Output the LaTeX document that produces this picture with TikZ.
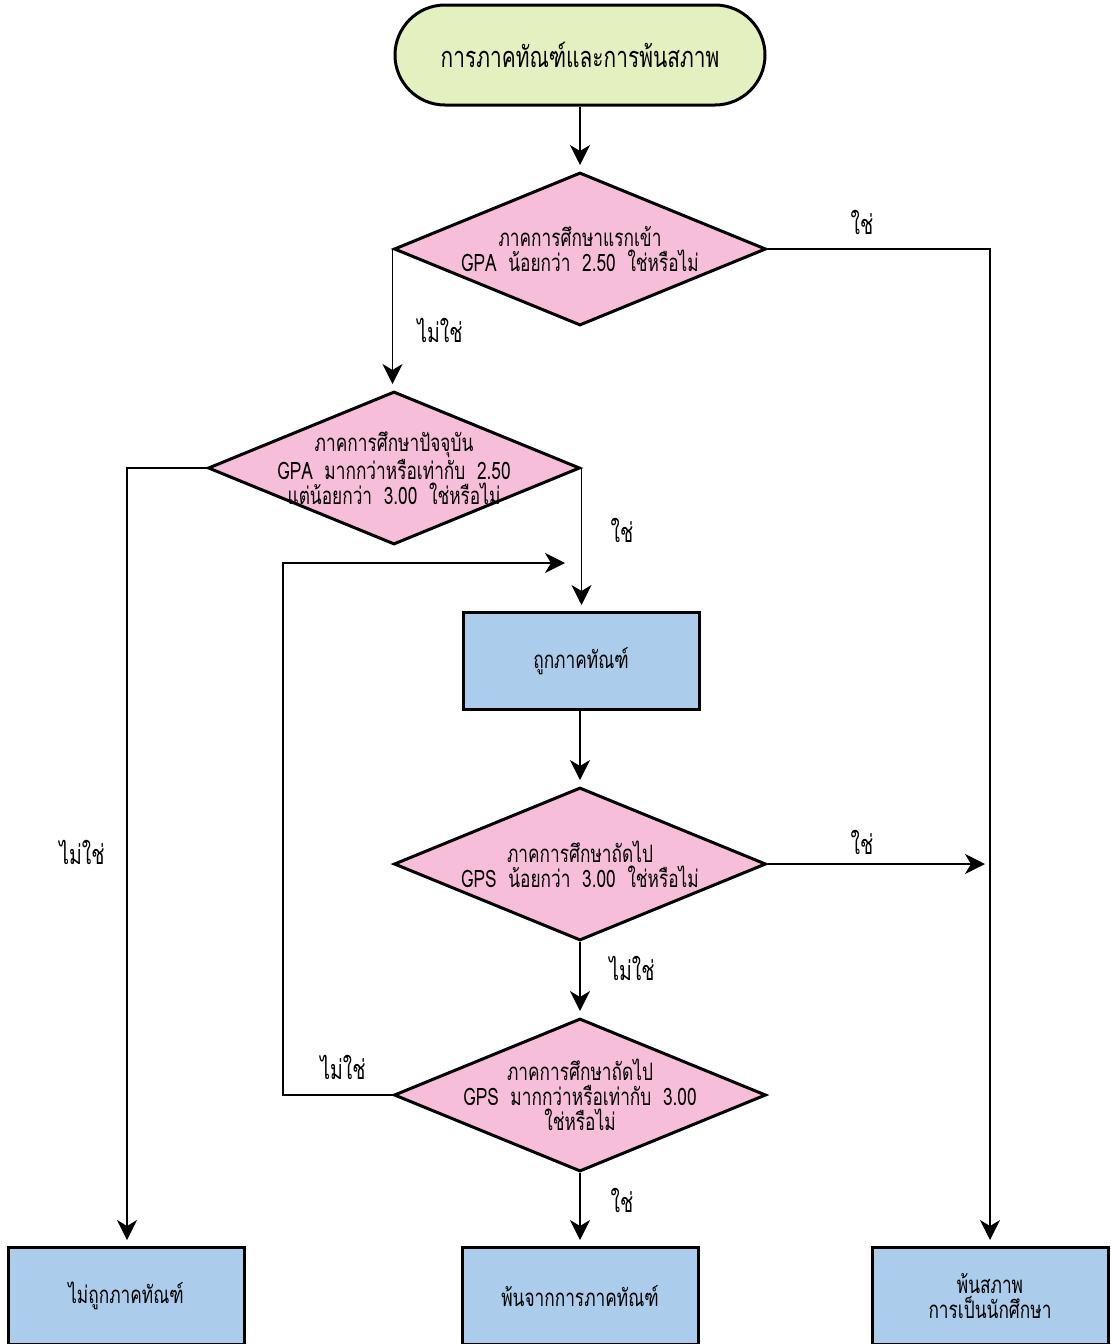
\documentclass[tikz,border=0pt]{standalone}
\usepackage{fontspec}
\newfontfamily\thaifont[Script=Thai,FakeStretch=0.72]{Loma}
\usetikzlibrary{shapes.geometric,arrows.meta}
\definecolor{termgreen}{RGB}{229,240,192}
\definecolor{diapink}{RGB}{246,190,216}
\definecolor{boxblue}{RGB}{171,205,235}
\tikzset{
  every node/.style={font=\thaifont},
  term/.style={draw, line width=3pt, fill=termgreen, rounded corners=50pt, minimum width=370pt, minimum height=100pt, font=\thaifont\fontsize{29}{34}\selectfont},
  dia/.style={draw, diamond, line width=3pt, fill=diapink, inner sep=0pt, minimum width=372pt, minimum height=153pt},
  dtext/.style={align=center, font=\thaifont\fontsize{24}{25}\selectfont},
  pbox/.style={draw, line width=3pt, fill=boxblue, minimum width=236pt, minimum height=97pt, align=center, font=\thaifont\fontsize{24}{25}\selectfont},
  arr/.style={line width=1.5pt, -{Stealth[length=20pt,width=20pt,inset=6pt]}, shorten >=6pt},
  lbl/.style={font=\thaifont\fontsize{27}{28}\selectfont}
}
\begin{document}
\begin{tikzpicture}[x=1pt,y=-1pt]
\useasboundingbox (0,0) rectangle (1111,1344);
\fill[white] (0,0) rectangle (1111,1344);
% nodes
\node[term] (start) at (580,55) {การภาคทัณฑ์และการพ้นสภาพ};
\node[dia] (d1) at (580,249) {};
\node[dtext] at (d1) {ภาคการศึกษาแรกเข้า\\GPA\ \ น้อยกว่า\ \ 2.50\ \ ใช่หรือไม่};
\node[dia] (d2) at (394,468) {};
\node[dtext] at (d2) {ภาคการศึกษาปัจจุบัน\\GPA\ \ มากกว่าหรือเท่ากับ\ \ 2.50\\แต่น้อยกว่า\ \ 3.00\ \ ใช่หรือไม่};
\node[pbox] (b1) at (581,661) {ถูกภาคทัณฑ์};
\node[dia] (d3) at (580,864) {};
\node[dtext] at (d3) {ภาคการศึกษาถัดไป\\GPS\ \ น้อยกว่า\ \ 3.00\ \ ใช่หรือไม่};
\node[dia] (d4) at (580,1095) {};
\node[dtext] at (d4) {ภาคการศึกษาถัดไป\\GPS\ \ มากกว่าหรือเท่ากับ\ \ 3.00\\ใช่หรือไม่};
\node[pbox] (ba) at (126,1296) {ไม่ถูกภาคทัณฑ์};
\node[pbox] (bb) at (580,1296) {พ้นจากการภาคทัณฑ์};
\node[pbox] (bc) at (990,1296) {พ้นสภาพ\\การเป็นนักศึกษา};
% coordinates
\coordinate (r1) at (990,249);
\coordinate (l2) at (127,468);
\coordinate (e3) at (991,864);
\coordinate (lp1) at (283,1095);
\coordinate (lp2) at (283,563);
\coordinate (lp3) at (571,563);
% connectors
\draw[arr] (start.south) -- (d1.north);
\draw[arr] (d1.west) -- (d1.west |- d2.north);
\draw[arr] (d1.east) -- (r1) -- (r1 |- bc.north);
\draw[arr] (d2.west) -- (l2) -- (l2 |- ba.north);
\draw[arr] (d2.east) -- (d2.east |- b1.north);
\draw[arr] (d3.north |- b1.south) -- (d3.north);
\draw[arr] (d3.east) -- (e3);
\draw[arr] (d3.south) -- (d4.north);
\draw[arr] (d4.west) -- (lp1) -- (lp2) -- (lp3);
\draw[arr] (d4.south) -- (bb.north);
% labels
\node[lbl] at (862,222) {ใช่};
\node[lbl] at (440,330) {ไม่ใช่};
\node[lbl] at (622,530) {ใช่};
\node[lbl] at (82,852) {ไม่ใช่};
\node[lbl] at (862,842) {ใช่};
\node[lbl] at (632,968) {ไม่ใช่};
\node[lbl] at (343,1067) {ไม่ใช่};
\node[lbl] at (622,1200) {ใช่};
\end{tikzpicture}
\end{document}
